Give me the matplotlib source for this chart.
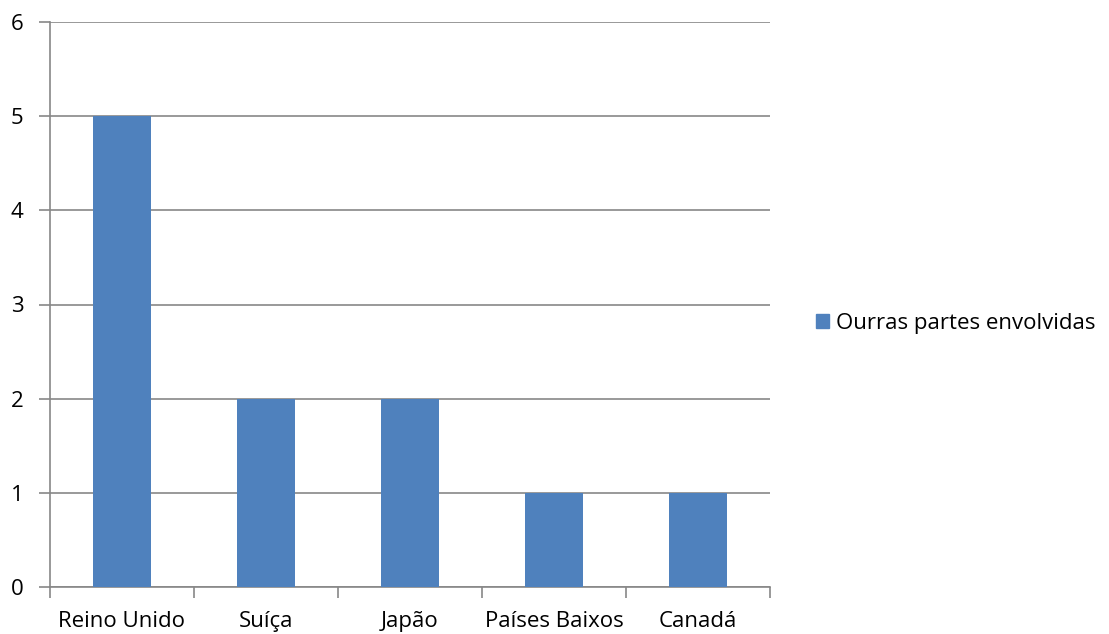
import numpy as np
import matplotlib
matplotlib.use("Agg")
from matplotlib import pyplot as plt
from matplotlib.patches import Patch

# === DATA ===
paises = ["Reino Unido", "Suíça", "Japão", "Países Baixos", "Canadá"]
partes = [5, 2, 2, 1, 1]
serie_nome = "Ourras partes envolvidas"

BAR_COLOR = "#4F81BD"
GRID_COLOR = "#878787"
FS = 16

plt.rcParams["font.family"] = ["Open Sans", "DejaVu Sans"]

fig = plt.figure(figsize=(11.09, 6.34), dpi=100)
ax = fig.add_axes([50 / 1109, 1 - 587 / 634, 720 / 1109, 565 / 634])

x = np.arange(len(paises))
ax.bar(x, partes, width=0.4, color=BAR_COLOR, zorder=3)

ax.set_xlim(-0.5, len(paises) - 0.5)
ax.set_ylim(0, 6)
ax.set_yticks(range(0, 7))
ax.yaxis.grid(True, color=GRID_COLOR, linewidth=1.2, zorder=0)

# category labels centred, ticks on category boundaries
ax.set_xticks(x)
ax.set_xticklabels(paises)
ax.set_xticks(np.arange(-0.5, len(paises)), minor=True)
ax.tick_params(axis="x", which="major", length=0, pad=17)
ax.tick_params(axis="x", which="minor", length=8, color=GRID_COLOR, width=1.2)
ax.tick_params(axis="y", length=8, color=GRID_COLOR, width=1.2, pad=11)
ax.tick_params(labelsize=FS)

for s in ["top", "right"]:
    ax.spines[s].set_visible(False)
for s in ["left", "bottom"]:
    ax.spines[s].set_color(GRID_COLOR)
    ax.spines[s].set_linewidth(1.2)

fig.legend(handles=[Patch(color=BAR_COLOR, label=serie_nome)],
           loc="center left", bbox_to_anchor=(796 / 1109, 1 - 323 / 634),
           frameon=False, fontsize=FS, handlelength=0.6, handleheight=0.6,
           handletextpad=0.3)

fig.savefig("out.png", dpi=100)
